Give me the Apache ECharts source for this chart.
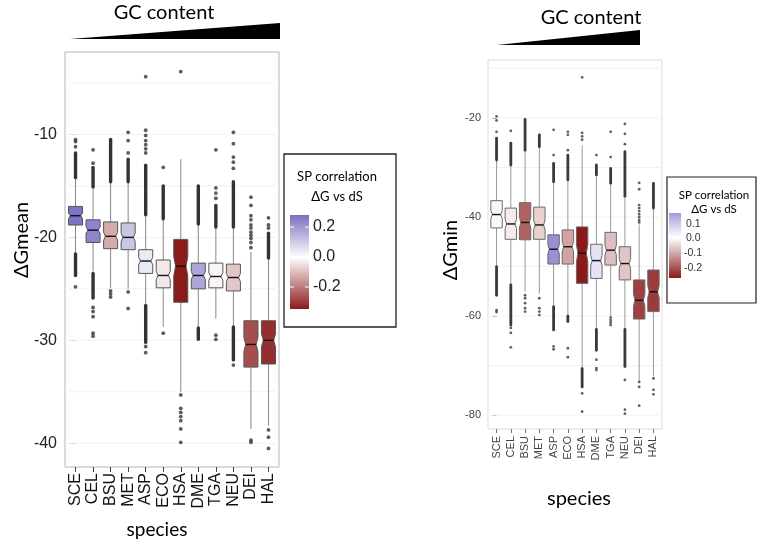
<!DOCTYPE html>
<html>
<head>
<meta charset="utf-8">
<script src="https://cdn.jsdelivr.net/npm/echarts@6/dist/echarts.min.js"></script>
<style>html,body{margin:0;background:#fff}#main{width:761px;height:546px}</style>
</head>
<body>
<div id="main"></div>
<script>
var species = ['SCE', 'CEL', 'BSU', 'MET', 'ASP', 'ECO', 'HSA', 'DME', 'TGA', 'NEU', 'DEI', 'HAL'];
var speciesIdx = species.map(function (s, i) { return i; });

// ΔGmean panel (left)
var meanLow  = [-21.5, -23.3, -24.9, -25.0, -26.5, -28.7, -35.0, -28.7, -27.9, -28.7, -38.6, -38.3];
var meanQ1   = [-18.8, -20.5, -21.1, -21.2, -23.5, -24.9, -26.3, -25.0, -24.9, -25.2, -32.6, -32.3];
var meanMed  = [-17.9, -19.3, -19.9, -20.0, -22.3, -23.7, -22.8, -23.7, -23.8, -23.9, -30.4, -30.0];
var meanQ3   = [-17.0, -18.3, -18.5, -18.6, -21.2, -22.2, -20.2, -22.5, -22.5, -22.6, -28.1, -28.1];
var meanHigh = [-14.2, -15.1, -14.6, -14.6, -17.9, -18.3, -12.4, -18.8, -19.1, -19.0, -21.4, -22.0];
var meanCorr = [0.25, 0.22, -0.13, 0.105, 0.04, -0.035, -0.35, 0.16, -0.015, -0.085, -0.27, -0.32];
var meanOutliers = [
  [0, -10.5], [0, -10.7], [0, -11.2], [0, -24.8],
  [1, -11.5], [1, -12.8], [1, -26.8], [1, -27.2], [1, -27.7], [1, -29.3], [1, -29.6],
  [2, -25.2], [2, -25.5], [2, -25.8],
  [3, -9.8], [3, -10.6], [3, -11.8], [3, -25.3], [3, -26.9],
  [4, -4.4], [4, -9.6], [4, -10.1], [4, -10.6], [4, -11.0], [4, -11.4], [4, -11.8], [4, -30.6], [4, -31.2],
  [5, -13.2], [5, -29.3],
  [6, -3.9], [6, -35.3], [6, -36.6], [6, -37.0], [6, -37.4], [6, -37.8], [6, -38.6], [6, -39.9],
  [8, -11.5], [8, -15.2], [8, -15.7], [8, -16.2], [8, -29.5], [8, -29.9],
  [9, -9.8], [9, -10.9], [9, -12.2], [9, -12.7], [9, -13.3], [9, -32.4],
  [10, -16.1], [10, -16.9], [10, -17.9], [10, -18.3], [10, -18.8], [10, -19.1], [10, -19.5],
  [10, -19.8], [10, -20.1], [10, -20.5], [10, -21.0], [10, -39.7], [10, -39.9],
  [11, -18.1], [11, -18.8], [11, -19.1], [11, -38.7], [11, -39.4], [11, -40.5]
];
// runs of outliers so dense they merge into a bar: [species, from, to]
var meanDense = [
  [0, -11.8, -14.2], [0, -21.6, -23.7], [1, -13.2, -15.1], [1, -23.5, -25.9],
  [2, -10.5, -14.6], [3, -12.4, -14.6], [4, -13.0, -17.8], [4, -26.6, -30.2],
  [5, -15.0, -18.2], [7, -15.0, -18.7], [7, -28.8, -29.9], [8, -16.9, -19.0],
  [9, -14.6, -19.0], [9, -28.7, -31.9], [11, -19.6, -22.0]
];
var meanTicks = [-40, -30, -20, -10];
var meanGrid = [-40, -35, -30, -25, -20, -15, -10, -5];

// ΔGmin panel (right)
var minLow  = [-50.0, -53.5, -55.0, -55.5, -58.1, -59.8, -70.6, -62.7, -60.1, -62.7, -73.1, -72.2];
var minQ1   = [-42.2, -44.5, -44.6, -44.5, -49.5, -49.5, -53.4, -52.4, -49.7, -52.7, -60.6, -59.1];
var minMed  = [-39.5, -41.4, -41.1, -41.6, -46.5, -46.0, -47.3, -48.8, -46.7, -49.4, -56.8, -55.1];
var minQ3   = [-36.7, -38.2, -37.1, -38.0, -43.6, -42.6, -42.0, -45.5, -43.1, -46.0, -52.7, -50.7];
var minHigh = [-28.5, -29.6, -26.6, -26.0, -32.9, -32.5, -25.5, -31.5, -33.5, -35.8, -41.5, -38.2];
var minCorr = [-0.01, -0.03, -0.24, -0.07, 0.2, -0.14, -0.35, 0.05, -0.1, -0.09, -0.29, -0.3];
var minOutliers = [
  [0, -19.7], [0, -20.5], [0, -22.8], [0, -58.8], [0, -59.2],
  [1, -22.6], [1, -62.4], [1, -63.4], [1, -66.3],
  [2, -55.8], [2, -56.4], [2, -57.4], [2, -58.4], [2, -59.1],
  [3, -56.4], [3, -58.4], [3, -59.1], [3, -59.8],
  [4, -22.4], [4, -27.5], [4, -66.1], [4, -66.7],
  [5, -22.8], [5, -23.4], [5, -26.5], [5, -66.5], [5, -68.3],
  [6, -11.8], [6, -23.0], [6, -23.7], [6, -24.4], [6, -75.6], [6, -79.3],
  [7, -27.5], [7, -68.8], [7, -70.5], [7, -70.9],
  [8, -22.8], [8, -27.9], [8, -60.3], [8, -60.8], [8, -61.3], [8, -61.8],
  [9, -21.2], [9, -23.2], [9, -25.3], [9, -72.9], [9, -78.9], [9, -79.7],
  [10, -33.1], [10, -34.4], [10, -37.6], [10, -38.2], [10, -38.8], [10, -39.4], [10, -40.0],
  [10, -40.6], [10, -41.1], [10, -73.3], [10, -74.3], [10, -78.1],
  [11, -72.6], [11, -74.9], [11, -75.8]
];
var minDense = [
  [0, -24.1, -28.5], [0, -50.0, -55.8], [1, -25.1, -29.5], [1, -53.7, -61.8],
  [2, -20.3, -26.5], [3, -23.4, -25.8], [4, -29.2, -32.9], [4, -58.1, -62.8],
  [5, -27.5, -32.5], [5, -60.0, -61.1], [6, -70.6, -74.3], [7, -29.5, -31.5],
  [7, -62.7, -66.9], [8, -30.2, -33.2], [9, -26.8, -35.8], [9, -62.7, -70.2],
  [11, -33.2, -38.2]
];
var minTicks = [-80, -60, -40, -20];
var minGrid = [-80, -70, -60, -50, -40, -30, -20, -10];

var LOW = '#8b1a1a', MID = '#ffffff', HIGH = '#4a3cb0';
function corrColor(v) {
  var t = Math.max(0, Math.min(1, 0.5 + v / 0.7));
  return echarts.color.lerp(t, [LOW, MID, HIGH]);
}

function boxRows(lo, q1, md, q3, hi, corr) {
  return species.map(function (s, i) { return [i, lo[i], q1[i], md[i], q3[i], hi[i], corr[i]]; });
}

function makeBox(stroke, whisker) {
  return function (params, api) {
    var i = api.value(0);
    var lo = api.value(1), q1 = api.value(2), md = api.value(3), q3 = api.value(4), hi = api.value(5);
    var c = api.coord([i, md]);
    var bw = api.size([1, 0])[0] * 0.8;
    var x0 = c[0] - bw / 2, x1 = c[0] + bw / 2;
    var nh = (q3 - q1) * 0.15;
    var yq1 = api.coord([i, q1])[1], yq3 = api.coord([i, q3])[1];
    var ylo = api.coord([i, lo])[1], yhi = api.coord([i, hi])[1];
    var yn1 = api.coord([i, md - nh])[1], yn3 = api.coord([i, md + nh])[1];
    var ind = bw * 0.13;
    return {
      type: 'group',
      children: [
        { type: 'line', shape: { x1: c[0], y1: yq3, x2: c[0], y2: yhi }, style: { stroke: whisker, lineWidth: 1 } },
        { type: 'line', shape: { x1: c[0], y1: yq1, x2: c[0], y2: ylo }, style: { stroke: whisker, lineWidth: 1 } },
        {
          type: 'polygon',
          shape: { points: [[x0, yq3], [x1, yq3], [x1, yn3], [x1 - ind, c[1]], [x1, yn1], [x1, yq1],
                            [x0, yq1], [x0, yn1], [x0 + ind, c[1]], [x0, yn3]] },
          style: { fill: corrColor(api.value(6)), stroke: stroke, lineWidth: 1 }
        },
        { type: 'line', shape: { x1: x0 + ind, y1: c[1], x2: x1 - ind, y2: c[1] }, style: { stroke: '#111', lineWidth: 1.4 } }
      ]
    };
  };
}

function makeDense(color, w) {
  return function (params, api) {
    var a = api.coord([api.value(0), api.value(1)]);
    var b = api.coord([api.value(0), api.value(2)]);
    return { type: 'line', shape: { x1: a[0], y1: a[1], x2: b[0], y2: b[1] },
             style: { stroke: color, lineWidth: w, lineCap: 'round' } };
  };
}

function gridLine(params, api) {
  var cs = params.coordSys;
  var y = api.coord([0, api.value(1)])[1];
  return { type: 'line', shape: { x1: cs.x, y1: y, x2: cs.x + cs.width, y2: y },
           style: { stroke: '#f2f2f2', lineWidth: 1 } };
}

var textFont = 'Lato';
var tickFont = 'Liberation Sans';

var option = {
  animation: false,
  grid: [
    { left: 65, top: 52, width: 214, height: 415, show: true, borderColor: '#b5b5b5', borderWidth: 1, backgroundColor: '#fff' },
    { left: 488, top: 60, width: 174, height: 369, show: true, borderColor: '#dcdcdc', borderWidth: 1, backgroundColor: '#fff' }
  ],
  xAxis: [
    {
      type: 'value', gridIndex: 0, min: -0.6, max: 11.6,
      axisLine: { show: false }, splitLine: { show: false },
      axisTick: { show: true, customValues: speciesIdx, length: 5, lineStyle: { color: '#444' } },
      axisLabel: { customValues: speciesIdx, rotate: 90, margin: 6, fontSize: 16, color: '#111', fontFamily: tickFont,
                   formatter: function (v) { return species[v]; } }
    },
    {
      type: 'value', gridIndex: 1, min: -0.6, max: 11.6,
      axisLine: { show: false }, splitLine: { show: false },
      axisTick: { show: true, customValues: speciesIdx, length: 4, lineStyle: { color: '#777' } },
      axisLabel: { customValues: speciesIdx, rotate: 90, margin: 7, fontSize: 11, color: '#444', fontFamily: tickFont,
                   formatter: function (v) { return species[v]; } }
    }
  ],
  yAxis: [
    {
      type: 'value', gridIndex: 0, min: -42.3, max: -2,
      axisLine: { show: false }, splitLine: { show: false },
      axisTick: { show: true, customValues: meanTicks, length: 5, lineStyle: { color: '#444' } },
      axisLabel: { customValues: meanTicks, margin: 8, fontSize: 16, color: '#222', fontFamily: tickFont }
    },
    {
      type: 'value', gridIndex: 1, min: -82.8, max: -8.3,
      axisLine: { show: false }, splitLine: { show: false },
      axisTick: { show: true, customValues: minTicks, length: 4, lineStyle: { color: '#777' } },
      axisLabel: { customValues: minTicks, margin: 7, fontSize: 11, color: '#444', fontFamily: tickFont }
    }
  ],
  series: [
    { type: 'custom', xAxisIndex: 0, yAxisIndex: 0, silent: true, z: 1, renderItem: gridLine,
      data: meanGrid.map(function (v) { return [0, v]; }) },
    { type: 'custom', xAxisIndex: 1, yAxisIndex: 1, silent: true, z: 1, renderItem: gridLine,
      data: minGrid.map(function (v) { return [0, v]; }) },
    { type: 'custom', xAxisIndex: 0, yAxisIndex: 0, silent: true, z: 2, renderItem: makeBox('#555', '#888'),
      data: boxRows(meanLow, meanQ1, meanMed, meanQ3, meanHigh, meanCorr) },
    { type: 'custom', xAxisIndex: 1, yAxisIndex: 1, silent: true, z: 2, renderItem: makeBox('#6a6a6a', '#9a9a9a'),
      data: boxRows(minLow, minQ1, minMed, minQ3, minHigh, minCorr) },
    { type: 'custom', xAxisIndex: 0, yAxisIndex: 0, silent: true, z: 3, renderItem: makeDense('#333', 3.4), data: meanDense },
    { type: 'custom', xAxisIndex: 1, yAxisIndex: 1, silent: true, z: 3, renderItem: makeDense('#3a3a3a', 2.8), data: minDense },
    { type: 'scatter', xAxisIndex: 0, yAxisIndex: 0, silent: true, z: 3, symbolSize: 3.8,
      itemStyle: { color: '#333' }, data: meanOutliers },
    { type: 'scatter', xAxisIndex: 1, yAxisIndex: 1, silent: true, z: 3, symbolSize: 2.8,
      itemStyle: { color: '#3a3a3a' }, data: minOutliers }
  ],
  graphic: [
    // GC content wedges
    { type: 'text', style: { text: 'GC content', x: 164, y: 13, align: 'center', verticalAlign: 'middle', font: '20px ' + textFont, fill: '#000' } },
    { type: 'polygon', shape: { points: [[70, 39], [280, 23], [280, 39]] }, style: { fill: '#000' } },
    { type: 'text', style: { text: 'GC content', x: 591, y: 18, align: 'center', verticalAlign: 'middle', font: '20px ' + textFont, fill: '#000' } },
    { type: 'polygon', shape: { points: [[497, 45], [640, 30], [640, 45]] }, style: { fill: '#000' } },

    // axis titles
    { type: 'text', x: 22, y: 240, rotation: Math.PI / 2, style: { text: 'ΔGmean', align: 'center', verticalAlign: 'middle', font: '20px ' + textFont, fill: '#000' } },
    { type: 'text', style: { text: 'species', x: 157, y: 530, align: 'center', verticalAlign: 'middle', font: '19px ' + textFont, fill: '#000' } },
    { type: 'text', x: 451, y: 250, rotation: Math.PI / 2, style: { text: 'ΔGmin', align: 'center', verticalAlign: 'middle', font: '20px ' + textFont, fill: '#000' } },
    { type: 'text', style: { text: 'species', x: 579, y: 499, align: 'center', verticalAlign: 'middle', font: '20px ' + textFont, fill: '#000' } },

    // left colour legend
    { type: 'rect', shape: { x: 284, y: 154, width: 112, height: 173 }, style: { fill: '#fff', stroke: '#222', lineWidth: 1.3 } },
    { type: 'text', style: { text: 'SP correlation', x: 337, y: 177, align: 'center', verticalAlign: 'middle', font: '13px ' + textFont, fill: '#000' } },
    { type: 'text', style: { text: 'ΔG vs dS', x: 337, y: 197, align: 'center', verticalAlign: 'middle', font: '13px ' + textFont, fill: '#000' } },
    { type: 'rect', shape: { x: 290, y: 215, width: 19, height: 94 },
      style: { fill: new echarts.graphic.LinearGradient(0, 0, 0, 1, [
        { offset: 0, color: '#7a6ec0' }, { offset: 0.45, color: '#ffffff' }, { offset: 1, color: LOW }]) } },
    { type: 'line', shape: { x1: 290, y1: 227, x2: 294, y2: 227 }, style: { stroke: '#fff', lineWidth: 1 } },
    { type: 'line', shape: { x1: 305, y1: 227, x2: 309, y2: 227 }, style: { stroke: '#fff', lineWidth: 1 } },
    { type: 'line', shape: { x1: 290, y1: 257, x2: 294, y2: 257 }, style: { stroke: '#fff', lineWidth: 1 } },
    { type: 'line', shape: { x1: 305, y1: 257, x2: 309, y2: 257 }, style: { stroke: '#fff', lineWidth: 1 } },
    { type: 'line', shape: { x1: 290, y1: 287, x2: 294, y2: 287 }, style: { stroke: '#fff', lineWidth: 1 } },
    { type: 'line', shape: { x1: 305, y1: 287, x2: 309, y2: 287 }, style: { stroke: '#fff', lineWidth: 1 } },
    { type: 'text', style: { text: '0.2', x: 313, y: 227, verticalAlign: 'middle', font: '16px ' + tickFont, fill: '#222' } },
    { type: 'text', style: { text: '0.0', x: 313, y: 257, verticalAlign: 'middle', font: '16px ' + tickFont, fill: '#222' } },
    { type: 'text', style: { text: '-0.2', x: 313, y: 287, verticalAlign: 'middle', font: '16px ' + tickFont, fill: '#222' } },

    // right colour legend
    { type: 'rect', shape: { x: 667, y: 177, width: 89, height: 126 }, style: { fill: '#fff', stroke: '#222', lineWidth: 1.2 } },
    { type: 'text', style: { text: 'SP correlation', x: 714, y: 195, align: 'center', verticalAlign: 'middle', font: '11.5px ' + textFont, fill: '#000' } },
    { type: 'text', style: { text: 'ΔG vs dS', x: 714, y: 209, align: 'center', verticalAlign: 'middle', font: '11.5px ' + textFont, fill: '#000' } },
    { type: 'rect', shape: { x: 669, y: 213, width: 12, height: 65 },
      style: { fill: new echarts.graphic.LinearGradient(0, 0, 0, 1, [
        { offset: 0, color: '#a29cd6' }, { offset: 0.38, color: '#ffffff' }, { offset: 1, color: LOW }]) } },
    { type: 'text', style: { text: '0.1', x: 686, y: 224, verticalAlign: 'middle', font: '10.5px ' + tickFont, fill: '#333' } },
    { type: 'text', style: { text: '0.0', x: 686, y: 238, verticalAlign: 'middle', font: '10.5px ' + tickFont, fill: '#333' } },
    { type: 'text', style: { text: '-0.1', x: 684, y: 253, verticalAlign: 'middle', font: '10.5px ' + tickFont, fill: '#333' } },
    { type: 'text', style: { text: '-0.2', x: 684, y: 268, verticalAlign: 'middle', font: '10.5px ' + tickFont, fill: '#333' } }
  ]
};

var chart = echarts.init(document.getElementById('main'));
chart.setOption(option);
</script>
</body>
</html>
